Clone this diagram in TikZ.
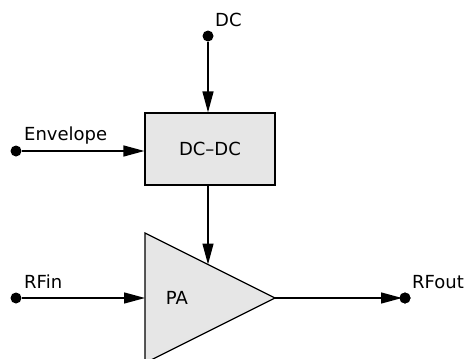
\documentclass[tikz,border=0pt]{standalone}
\usepackage{fontspec}
\setmainfont{DejaVu Sans}
\usetikzlibrary{arrows.meta}
\definecolor{boxgray}{RGB}{230,230,230}
\begin{document}
\begin{tikzpicture}[x=1pt,y=-1pt,
  wire/.style={line width=1.4pt,-{Triangle[length=21pt,width=11pt]}},
  term/.style={circle,fill=black,inner sep=0pt,minimum size=11pt},
  lbl/.style={font=\fontsize{18}{20}\selectfont,inner sep=0pt,anchor=base west},
  blk/.style={draw,line width=1.2pt,fill=boxgray}]
\useasboundingbox (0,0) rectangle (467,359);
\node[term] (dc) at (208,36) {};
\node[term] (env) at (16,151) {};
\node[term] (rfin) at (16,298) {};
\node[term] (rfout) at (405,298) {};
\node[blk,minimum width=130pt,minimum height=72pt,inner sep=0pt] (conv) at (210,149) {};
\node[lbl,anchor=center] at (conv.center) {DC–DC};
\draw[blk] (145,233) -- (275,298) -- (145,363) -- cycle;
\coordinate (paL) at (145,298);
\coordinate (paTop) at (208,264.5);
\coordinate (paOut) at (275,298);
\node[lbl,anchor=center] (pa) at (177,298) {PA};
\node[lbl] (dcl) at (215,26) {DC};
\node[lbl] (envl) at (24,140) {Envelope};
\node[lbl] (rfinl) at (24,288) {RFin};
\node[lbl] (rfoutl) at (412,288) {RFout};
\draw[wire] (dc) -- (dc |- conv.north);
\draw[wire] (env) -- (env -| conv.west);
\draw[wire] (conv.south -| paTop) -- (paTop);
\draw[wire] (rfin) -- (paL);
\draw[wire,shorten >=3pt] (paOut) -- (rfout.center);
\node[term] at (rfout) {};
\end{tikzpicture}
\end{document}
